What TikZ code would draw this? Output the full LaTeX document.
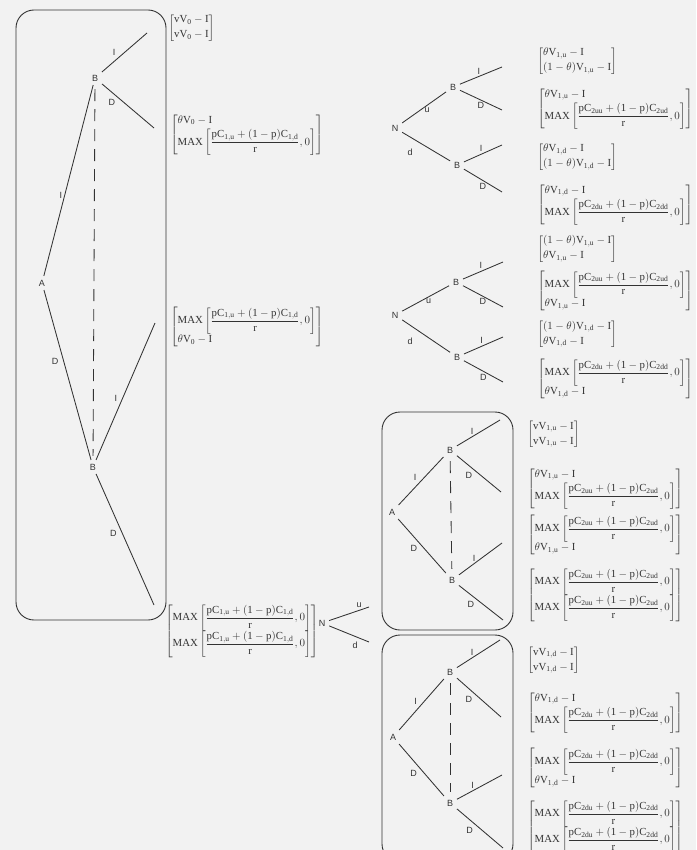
\documentclass[tikz,border=0pt]{standalone}
\usepackage{amsmath}
\usepackage{fontspec}
\setmainfont{Liberation Serif}
\setsansfont{Liberation Sans}
\usetikzlibrary{calc}
\newcommand{\payoff}[2]{$\left[\begin{array}{@{}l@{}}#1\\[2.5pt]#2\end{array}\right]$}
\newcommand{\mx}[2]{\mathrm{MAX}\left[\dfrac{\mathrm{pC_{#1}+(1-p)C_{#2}}}{\mathrm{r}},0\right]}
\newcommand{\Vmi}[1]{\mathrm{V_{#1}-I}}

\begin{document}
\begin{tikzpicture}[x=1pt,y=-1pt,color=black!80,line width=0.85pt,
  lbl/.style={font=\sffamily\small,inner sep=3.5pt},
  elbl/.style={font=\sffamily\small,inner sep=2pt},
  pay/.style={anchor=west,inner sep=0pt,font=\fontsize{10.8}{12.5}\selectfont},
  frame/.style={rounded corners=18pt,line width=0.9pt},
  tie/.style={dash pattern=on 12pt off 8pt,shorten <=4pt,shorten >=4pt}]

  \clip (0,0) rectangle (696,850);
  \fill[black!5] (0,0) rectangle (696,850);

  % ==========================================
  % LEFT: FIRST STAGE (BIG BOX)
  % ==========================================
  \draw[frame] (16,10) rectangle (166,620);
  \node[lbl] (A0) at (42,283) {A};
  \node[lbl] (B0u) at (95,78) {B};
  \node[lbl] (B0d) at (93,467) {B};
  \coordinate (l0a) at (147,33);
  \coordinate (l0b) at (154,128);
  \coordinate (l0c) at (155,323);
  \coordinate (l0d) at (154,605);

  \draw (A0) -- node[elbl,pos=.42,left]{I} (B0u);
  \draw (A0) -- node[elbl,pos=.42,left=3pt]{D} (B0d);
  \draw[tie] (B0u) -- (B0d);
  \draw (B0u) -- node[elbl,pos=.35,above left]{I} (l0a);
  \draw (B0u) -- node[elbl,pos=.3,below left]{D} (l0b);
  \draw (B0d) -- node[elbl,pos=.45,left=3pt]{I} (l0c);
  \draw (B0d) -- node[elbl,pos=.45,left=3pt]{D} (l0d);

  \node[pay] (p0a) at (168,28) {\payoff{\mathrm{vV_0-I}}{\mathrm{vV_0-I}}};
  \node[pay] (p0b) at (170,135) {\payoff{\theta\Vmi{0}}{\mx{1,u}{1,d}}};
  \node[pay] (p0c) at (170,327) {\payoff{\mx{1,u}{1,d}}{\theta\Vmi{0}}};
  \node[pay] (p0d) at (165,631) {\payoff{\mx{1,u}{1,d}}{\mx{1,u}{1,d}}};

  % nature move into the two boxes
  \node[lbl] (N0) at (322,623) {N};
  \coordinate (l0u) at (369,607);
  \coordinate (l0v) at (369,642);
  \draw (N0) -- node[elbl,pos=.75,above]{u} (l0u);
  \draw (N0) -- node[elbl,pos=.65,below=3pt]{d} (l0v);

  % ==========================================
  % RIGHT TOP: TWO NATURE TREES
  % ==========================================
  \node[lbl] (N1) at (395,128) {N};
  \node[lbl] (B1u) at (453,87) {B};
  \node[lbl] (B1d) at (457,165) {B};
  \coordinate (l1a) at (502,67);
  \coordinate (l1b) at (502,110);
  \coordinate (l1c) at (502,145);
  \coordinate (l1d) at (502,192);
  \draw (N1) -- node[elbl,pos=.5,below right,inner sep=0pt]{u} (B1u);
  \draw (N1) -- node[elbl,pos=.35,below left=4pt]{d} (B1d);
  \draw (B1u) -- node[elbl,pos=.45,above]{I} (l1a);
  \draw (B1u) -- node[elbl,pos=.5,below]{D} (l1b);
  \draw (B1d) -- node[elbl,pos=.45,above]{I} (l1c);
  \draw (B1d) -- node[elbl,pos=.5,below]{D} (l1d);

  \node[pay] (p1a) at (537,61) {\payoff{\theta\Vmi{1,u}}{(1-\theta)\Vmi{1,u}}};
  \node[pay] (p1b) at (537,109) {\payoff{\theta\Vmi{1,u}}{\mx{2uu}{2ud}}};
  \node[pay] (p1c) at (537,157) {\payoff{\theta\Vmi{1,d}}{(1-\theta)\Vmi{1,d}}};
  \node[pay] (p1d) at (537,205) {\payoff{\theta\Vmi{1,d}}{\mx{2du}{2dd}}};

  \node[lbl] (N2) at (395,315) {N};
  \node[lbl] (B2u) at (456,282) {B};
  \node[lbl] (B2d) at (457,357) {B};
  \coordinate (l2a) at (503,262);
  \coordinate (l2b) at (503,307);
  \coordinate (l2c) at (503,337);
  \coordinate (l2d) at (503,382);
  \draw (N2) -- node[elbl,pos=.5,below right,inner sep=0pt]{u} (B2u);
  \draw (N2) -- node[elbl,pos=.35,below left=4pt]{d} (B2d);
  \draw (B2u) -- node[elbl,pos=.45,above]{I} (l2a);
  \draw (B2u) -- node[elbl,pos=.5,below]{D} (l2b);
  \draw (B2d) -- node[elbl,pos=.45,above]{I} (l2c);
  \draw (B2d) -- node[elbl,pos=.5,below]{D} (l2d);

  \node[pay] (p2a) at (537,249) {\payoff{(1-\theta)\Vmi{1,u}}{\theta\Vmi{1,u}}};
  \node[pay] (p2b) at (537,291) {\payoff{\mx{2uu}{2ud}}{\theta\Vmi{1,u}}};
  \node[pay] (p2c) at (537,334) {\payoff{(1-\theta)\Vmi{1,d}}{\theta\Vmi{1,d}}};
  \node[pay] (p2d) at (537,379) {\payoff{\mx{2du}{2dd}}{\theta\Vmi{1,d}}};

  % ==========================================
  % RIGHT BOTTOM: SECOND STAGE BOXES
  % ==========================================
  \draw[frame] (382,412) rectangle (513,630);
  \node[lbl] (A3) at (392,512) {A};
  \node[lbl] (B3u) at (450,450) {B};
  \node[lbl] (B3d) at (452,580) {B};
  \coordinate (l3a) at (500,420);
  \coordinate (l3b) at (501,492);
  \coordinate (l3c) at (502,543);
  \coordinate (l3d) at (503,620);
  \draw (A3) -- node[elbl,pos=.45,above left]{I} (B3u);
  \draw (A3) -- node[elbl,pos=.45,below left]{D} (B3d);
  \draw[tie] (B3u) -- (B3d);
  \draw (B3u) -- node[elbl,pos=.35,above]{I} (l3a);
  \draw (B3u) -- node[elbl,pos=.4,below left]{D} (l3b);
  \draw (B3d) -- node[elbl,pos=.35,above]{I} (l3c);
  \draw (B3d) -- node[elbl,pos=.4,below left]{D} (l3d);

  \node[pay] (p3a) at (527,434) {\payoff{\mathrm{vV_{1,u}-I}}{\mathrm{vV_{1,u}-I}}};
  \node[pay] (p3b) at (527,489) {\payoff{\theta\Vmi{1,u}}{\mx{2uu}{2ud}}};
  \node[pay] (p3c) at (527,535) {\payoff{\mx{2uu}{2ud}}{\theta\Vmi{1,u}}};
  \node[pay] (p3d) at (527,595) {\payoff{\mx{2uu}{2ud}}{\mx{2uu}{2ud}}};

  \draw[frame] (382,635) rectangle (513,862);
  \node[lbl] (A4) at (393,737) {A};
  \node[lbl] (B4u) at (450,672) {B};
  \node[lbl] (B4d) at (450,803) {B};
  \coordinate (l4a) at (500,640);
  \coordinate (l4b) at (501,717);
  \coordinate (l4c) at (502,775);
  \coordinate (l4d) at (503,848);
  \draw (A4) -- node[elbl,pos=.45,above left]{I} (B4u);
  \draw (A4) -- node[elbl,pos=.45,below left]{D} (B4d);
  \draw[tie] (B4u) -- (B4d);
  \draw (B4u) -- node[elbl,pos=.35,above]{I} (l4a);
  \draw (B4u) -- node[elbl,pos=.4,below left]{D} (l4b);
  \draw (B4d) -- node[elbl,pos=.35,above]{I} (l4c);
  \draw (B4d) -- node[elbl,pos=.4,below left]{D} (l4d);

  \node[pay] (p4a) at (527,660) {\payoff{\mathrm{vV_{1,d}-I}}{\mathrm{vV_{1,d}-I}}};
  \node[pay] (p4b) at (527,713) {\payoff{\theta\Vmi{1,d}}{\mx{2du}{2dd}}};
  \node[pay] (p4c) at (527,768) {\payoff{\mx{2du}{2dd}}{\theta\Vmi{1,d}}};
  \node[pay] (p4d) at (527,827) {\payoff{\mx{2du}{2dd}}{\mx{2du}{2dd}}};

\end{tikzpicture}
\end{document}
